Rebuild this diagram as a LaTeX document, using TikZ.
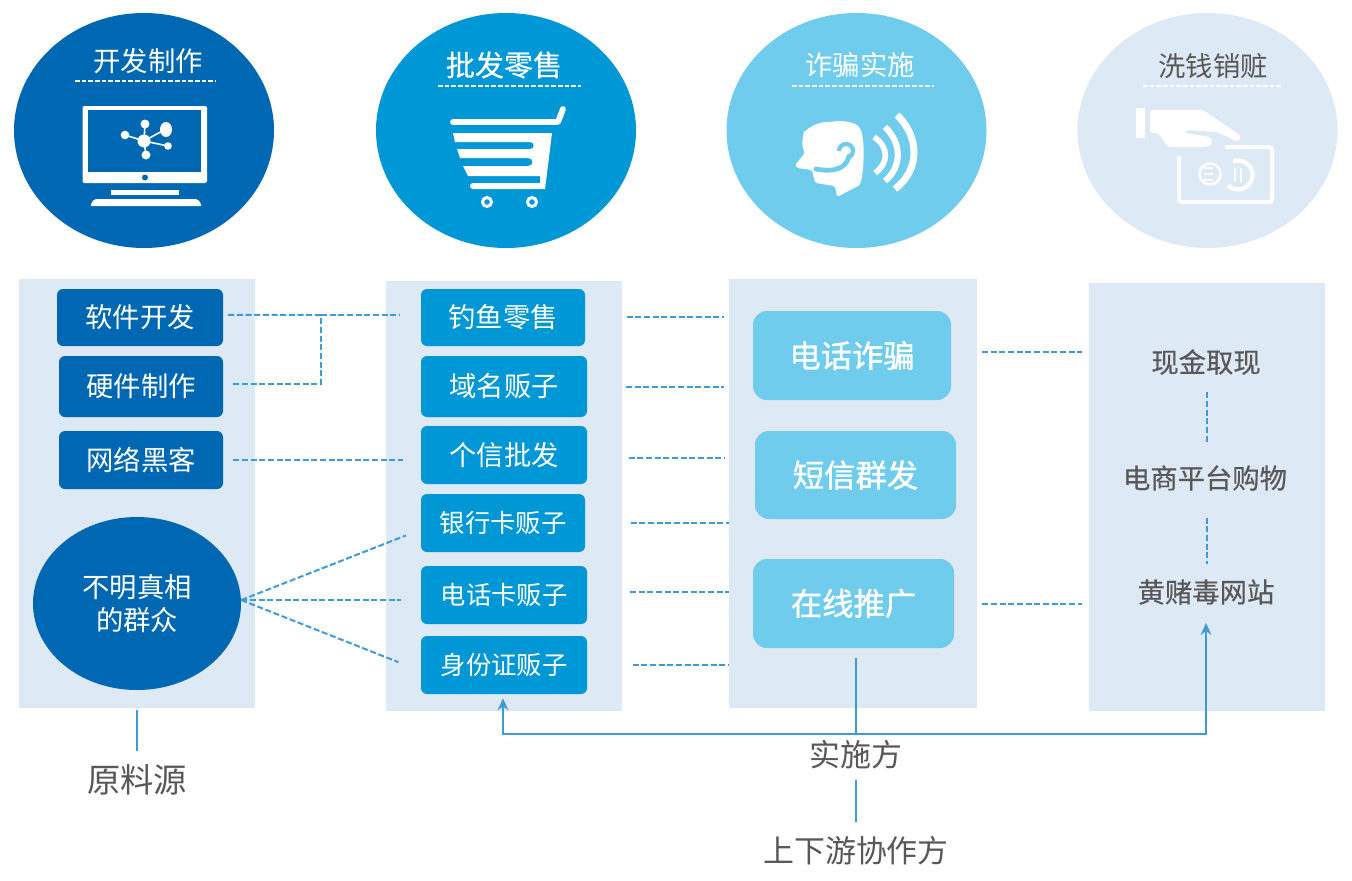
\documentclass[tikz,border=0pt]{standalone}
\usepackage{fontspec}
\setmainfont{Noto Sans CJK SC}
\newfontfamily\semi[FakeBold=0.4]{Noto Sans CJK SC}
\newfontfamily\semib[FakeBold=1.3]{Noto Sans CJK SC}
\usetikzlibrary{arrows.meta,shapes.geometric,calc}
\definecolor{navy}{HTML}{0068B2}
\definecolor{mid}{HTML}{0097D7}
\definecolor{sky}{HTML}{6FCCEC}
\definecolor{pale}{HTML}{DDE9F5}
\definecolor{ink}{HTML}{595757}
\definecolor{linkc}{HTML}{3F9BD8}
\newdimen\pu \pu=0.75pt
\tikzset{x=0.75pt,y=-0.75pt,
 panel/.style={draw=none,fill=pale,inner sep=0pt},
 disc/.style={ellipse,draw=none,inner sep=0pt,minimum width=260\pu,minimum height=235\pu},
 boxa/.style={draw=none,rounded corners=6\pu,fill=navy,text=white,inner sep=0pt,font=\fontsize{20.5pt}{24pt}\selectfont},
 boxb/.style={draw=none,rounded corners=6\pu,fill=mid,text=white,inner sep=0pt,font=\fontsize{20.5pt}{24pt}\selectfont},
 boxbs/.style={boxb,font=\fontsize{19pt}{24pt}\selectfont},
 boxc/.style={draw=none,rounded corners=14\pu,fill=sky,text=white,inner sep=0pt,font=\fontsize{23.5pt}{28pt}\semib},
 grey/.style={text=ink,inner sep=0pt,font=\fontsize{20.5pt}{24pt}\semi},
 bigl/.style={text=ink,inner sep=0pt,font=\fontsize{23.2pt}{28pt}\selectfont},
 title/.style={text=white,inner sep=0pt,font=\fontsize{20.5pt}{24pt}\selectfont},
 dotl/.style={draw=linkc,line width=1.5pt,dash pattern=on 4.5pt off 2pt},
 soli/.style={draw=linkc,line width=1.5pt},
 arr/.style={draw=linkc,line width=1.5pt,-{Stealth[length=9pt,width=8pt]}},
 rule/.style={draw=white,line width=1pt,dash pattern=on 3.5pt off 1.5pt},
}
\begin{document}
\begin{tikzpicture}
\useasboundingbox (0,0) rectangle (1352,881);
\fill[white] (0,0) rectangle (1352,881);
% discs
\node[disc,fill=navy] (d1) at (144,130.5) {};
\node[disc,fill=mid] (d2) at (506,130.5) {};
\node[disc,fill=sky] (d3) at (856.5,130.5) {};
\node[disc,fill=pale] (d4) at (1207.5,130.5) {};
\node[title] (t1) at (148,61) {开发制作};
\node[title,font=\fontsize{21.8pt}{24pt}\semi] (t2) at (504,65) {批发零售};
\node[title] (t3) at (860,65) {诈骗实施};
\node[title,text=ink] (t4) at (1213,66) {洗钱销赃};
\draw[rule] (75,81) -- (216,81);
\draw[rule] (438,86) -- (581,86);
\draw[rule] (792,86) -- (934,86);
\draw[rule] (1143,86) -- (1281,86);
% monitor icon
\fill[white,rounded corners=1.5pt] (82.5,106) rectangle (207,183);
\fill[navy] (88,110) rectangle (201,172);
\fill[navy] (145,177.5) circle (3);
\fill[white] (111,190) rectangle (179,195);
\fill[white,rounded corners=1.5pt] (90,206) -- (94,199) -- (198,199) -- (202,206) -- cycle;
\draw[white,line width=1.2pt] (144,141) -- (145,124) (144,141) -- (166,129) (144,141) -- (125,135) (144,141) -- (168,146) (144,141) -- (146,155);
\fill[white] (144,141) circle (6.5) (145,124) circle (4.5) (166,129.5) ellipse (6 and 7.5) (125,135) circle (4.3) (168,146) circle (3.8) (146,155) circle (4.5);
% cart icon
\draw[white,line width=4.4pt,line cap=round,line join=round] (453,122) -- (558,122) -- (563,109);
\fill[white] (453,133) -- (552,133) -- (545,189) -- (473,189) .. controls (469,189) and (469,183) .. (473,183) -- (540,183) -- (540,176) -- (468,176) -- (463,166) -- (528,166) .. controls (534,166) and (534,158) .. (528,158) -- (460,158) -- (457,149) -- (530,149) .. controls (535,149) and (535,142) .. (530,142) -- (455,142) -- cycle;
\draw[white,line width=2.2pt] (487,202) circle (4.5) (532,202) circle (4.5);
% head icon
\fill[white,rounded corners=2pt] (804,133) .. controls (810,126) and (820,122) .. (830,122) .. controls (842,120) and (856,122) .. (861,130) .. controls (865,145) and (864,170) .. (860,185) -- (837,197) -- (835,186) -- (815,183) -- (812,170) -- (797,168) -- (795,165) -- (805,153) .. controls (802,147) and (802,140) .. (804,133) -- cycle;
\draw[sky,line width=3.2pt] (839,151) .. controls (839,147.1) and (842.1,144) .. (846,144) .. controls (849.9,144) and (853,147.1) .. (853,151) .. controls (853,154) and (851,157) .. (848,158);
\draw[sky,line width=3.6pt,line cap=round] (849,156) .. controls (847,167) and (836,173) .. (816,169);
\draw[white,line width=4.2pt] (874,137) .. controls (889,147) and (889,163) .. (875,173);
\draw[white,line width=4.6pt] (885,127) .. controls (902,143) and (902,167) .. (885,181);
\draw[white,line width=5.2pt] (897,115) .. controls (920,137) and (920,170) .. (895,189);
% hand icon
\fill[white] (1136,108) rectangle (1145,138);
\fill[white,rounded corners=2pt] (1150,110) -- (1203,110) -- (1241,136) -- (1238,142) -- (1217,132) -- (1185,130) -- (1185,133) -- (1210,137) -- (1213,142) -- (1208,147) -- (1168,147) -- (1158,133) -- (1150,133) -- cycle;
\draw[white,line width=3pt,rounded corners=2pt] (1225,147) -- (1272,147) -- (1272,202) -- (1179,202) -- (1179,156);
\draw[white,line width=1.9pt] (1210,174) circle (10.5);
\draw[white,line width=1.2pt] (1204,168) -- (1213,168) (1204,174) -- (1213,174) (1204,180) -- (1213,180);
\draw[white,line width=3.2pt] (1233,161) .. controls (1235,160.5) and (1236,160.5) .. (1238,160.5) .. controls (1246,160.5) and (1252.5,167) .. (1252.5,175) .. controls (1252.5,183) and (1246,189.5) .. (1238,189.5) .. controls (1234,189.5) and (1231,188) .. (1228,185.5);
\draw[white,line width=1pt] (1235,168) -- (1235,182) (1241,168) -- (1241,182);
% panels
\path[panel] (19,279) rectangle (255,708);
\path[panel] (386,281) rectangle (622,711);
\path[panel] (729,279) rectangle (977,708);
\path[panel] (1089,283) rectangle (1325,711);
\coordinate (p3w) at (724,300);
\coordinate (p3ww) at (729,300);
\coordinate (p4w) at (1082,300);
\coordinate (p1s) at (137,710);
% column 1
\node[boxa,minimum width=166\pu,minimum height=57\pu] (a1) at (140,317.5) {软件开发};
\node[boxa,minimum width=164\pu,minimum height=61\pu] (a2) at (141,386.5) {硬件制作};
\node[boxa,minimum width=164\pu,minimum height=58\pu] (a3) at (141,460) {网络黑客};
\node[ellipse,fill=navy,text=white,inner sep=0pt,minimum width=208\pu,minimum height=173\pu,align=center,font=\fontsize{20.5pt}{24.5pt}\selectfont] (a4) at (137,603.5) {不明真相\\的群众};
% column 2
\node[boxb,minimum width=164\pu,minimum height=57\pu] (b1) at (503,317.5) {钓鱼零售};
\node[boxb,minimum width=166\pu,minimum height=61\pu] (b2) at (504,386.5) {域名贩子};
\node[boxb,minimum width=166\pu,minimum height=58\pu] (b3) at (504,455) {个信批发};
\node[boxbs,minimum width=164\pu,minimum height=58\pu] (b4) at (503,523) {银行卡贩子};
\node[boxbs,minimum width=166\pu,minimum height=58\pu] (b5) at (504,595) {电话卡贩子};
\node[boxbs,minimum width=166\pu,minimum height=58\pu] (b6) at (504,665) {身份证贩子};
% column 3
\node[boxc,minimum width=198\pu,minimum height=89\pu] (c1) at (852,355.5) {电话诈骗};
\node[boxc,minimum width=201\pu,minimum height=88\pu] (c2) at (855.5,475) {\raisebox{-1.2pt}{短信群发}};
\node[boxc,minimum width=201\pu,minimum height=89\pu] (c3) at (853.5,603.5) {在线推广};
% column 4
\node[grey] (e1) at (1206,362) {现金取现};
\node[grey] (e2) at (1205,478) {电商平台购物};
\node[grey] (e3) at (1206,592) {黄赌毒网站};
% labels
\node[bigl,font=\fontsize{25pt}{28pt}\selectfont] (l1) at (137,780) {原料源};
\node[bigl] (l2) at (856,755) {实施方};
\node[bigl] (l3) at (856,851) {上下游协作方};
% dashed links col1-col2
\coordinate (j) at (321,315);
\draw[dotl,shorten <=3.7pt] ([yshift=1.9pt]a1.east) -- (j);
\draw[dotl,shorten >=16pt] (j) -- (j -| b1.west);
\draw[dotl,shorten <=7.5pt] ([yshift=1.9pt]a2.east) -- ([yshift=1.9pt]a2.east -| j) -- (j);
\draw[dotl,shorten <=7.5pt,shorten >=13pt] (a3.east) -- (a3.east -| b3.west);
\draw[dotl,shorten >=12pt] ([yshift=2.6pt]a4.east) -- ([yshift=-5pt]b4.west);
\draw[dotl,shorten >=15pt] ([yshift=2.625pt]a4.east) -- ([yshift=2.625pt]a4.east -| b5.west);
\draw[dotl,shorten >=18pt] ([yshift=2.6pt]a4.east) -- ([yshift=-4.5pt]b6.west);
% dashed links col2-col3
\draw[dotl,shorten <=31pt] ([yshift=0.375pt]b1.east) -- ([yshift=0.375pt]b1.east -| p3w);
\draw[dotl,shorten <=29pt] ([yshift=-0.375pt]b2.east) -- ([yshift=-0.375pt]b2.east -| p3w);
\draw[dotl,shorten <=31pt] ([yshift=-2.25pt]b3.east) -- ([yshift=-2.25pt]b3.east -| p3w);
\draw[dotl,shorten <=34pt] (b4.east) -- (b4.east -| p3ww);
\draw[dotl,shorten <=32pt] ([yshift=2.25pt]b5.east) -- ([yshift=2.25pt]b5.east -| p3ww);
\draw[dotl,shorten <=34pt] (b6.east) -- (b6.east -| p3ww);
% dashed links col3-col4
\draw[dotl,shorten <=23pt] ([yshift=2.625pt]c1.east) -- ([yshift=2.625pt]c1.east -| p4w);
\draw[dotl,shorten <=21pt] ([yshift=-0.375pt]c3.east) -- ([yshift=-0.375pt]c3.east -| p4w);
\draw[dotl,shorten <=13pt,shorten >=16pt] (e1.south -| 1207,0) -- (e2.north -| 1207,0);
\draw[dotl,shorten <=20pt,shorten >=11pt] (e2.south -| 1207,0) -- (e3.north -| 1207,0);
% solid links
\coordinate (mid1) at (856,734);
\draw[soli,shorten >=10pt] (p1s) -- (l1.north);
\draw[soli,shorten <=7.5pt] (c3.south -| mid1) -- (mid1);
\draw[arr,shorten >=3pt] (mid1) -| (b6.south -| 503,0);
\draw[arr,shorten >=13.5pt] (mid1) -| (e3.south -| 1206,0);
\draw[soli,shorten <=7.5pt,shorten >=10.5pt] (l2.south) -- (l3.north);
\end{tikzpicture}
\end{document}
